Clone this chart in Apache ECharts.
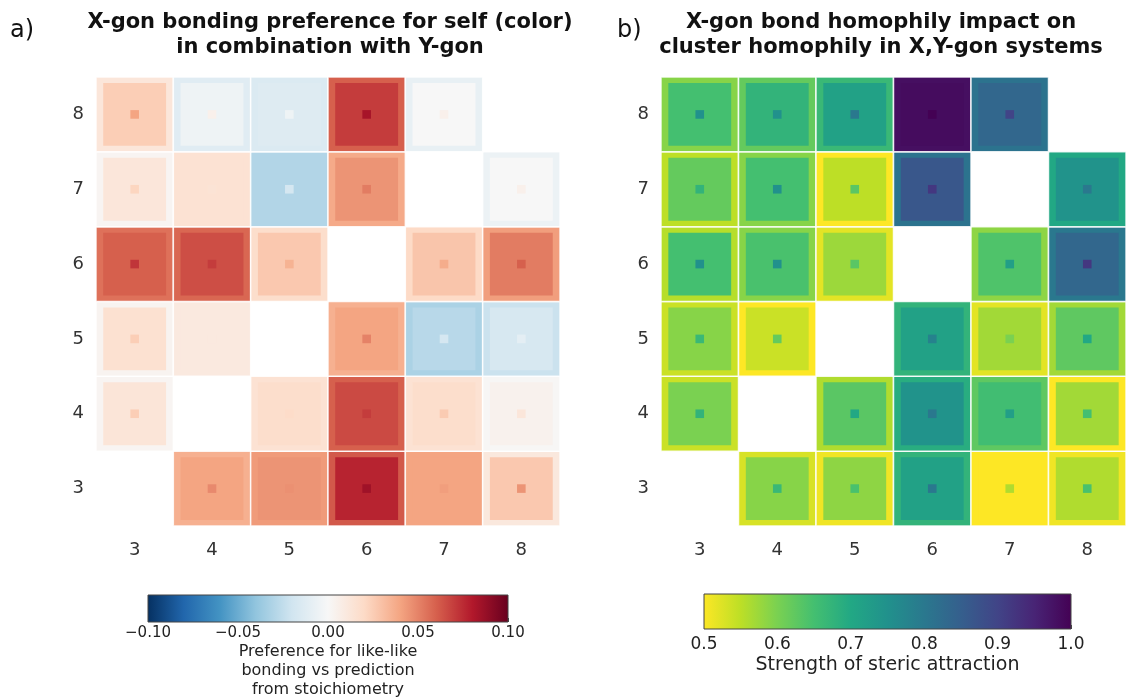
<!DOCTYPE html>
<html>
<head>
<meta charset="utf-8">
<script src="https://cdn.jsdelivr.net/npm/echarts@6/dist/echarts.min.js"></script>
<style>html,body{margin:0;padding:0;background:#fff}#c{width:1130px;height:700px}</style>
</head>
<body>
<div id="c"></div>
<script>
// Categories (X-gon along x, Y-gon along y)
var xCats = ['3','4','5','6','7','8'];
var yCats = ['3','4','5','6','7','8'];

// Panel a: preference for like-like bonding (rows: y = 3..8, cols: x = 3..8)
var prefOuter = [
  [null, 0.036, 0.043, 0.062, 0.040, 0.011],
  [0.002, null, 0.015, 0.060, 0.015, 0.001],
  [0.003, 0.010, null, 0.036, -0.032, -0.022],
  [0.055, 0.058, 0.018, null, 0.020, 0.042],
  [0.002, 0.015, -0.030, 0.038, null, -0.006],
  [0.012, -0.012, -0.015, 0.060, -0.008, null]
];
var prefMid = [
  [null, 0.040, 0.045, 0.077, 0.040, 0.027],
  [0.013, null, 0.018, 0.066, 0.018, 0.004],
  [0.016, 0.010, null, 0.040, -0.028, -0.017],
  [0.060, 0.065, 0.027, null, 0.028, 0.052],
  [0.012, 0.015, -0.030, 0.045, null, 0.000],
  [0.025, -0.005, -0.013, 0.070, 0.000, null]
];
var prefInner = [
  [null, 0.048, 0.046, 0.085, 0.042, 0.045],
  [0.025, null, 0.019, 0.070, 0.026, 0.012],
  [0.025, 0.010, null, 0.050, -0.018, -0.010],
  [0.072, 0.070, 0.035, null, 0.037, 0.060],
  [0.022, 0.014, -0.018, 0.052, null, 0.005],
  [0.040, 0.005, -0.005, 0.083, 0.005, null]
];

// Panel b: strength of steric attraction
var stericOuter = [
  [null, 0.53, 0.51, 0.675, 0.50, 0.51],
  [0.54, null, 0.56, 0.69, 0.625, 0.50],
  [0.54, 0.50, null, 0.675, 0.52, 0.57],
  [0.555, 0.59, 0.52, null, 0.585, 0.80],
  [0.55, 0.59, 0.50, 0.81, null, 0.70],
  [0.59, 0.62, 0.665, 0.98, 0.81, null]
];
var stericMid = [
  [null, 0.59, 0.585, 0.715, 0.50, 0.56],
  [0.60, null, 0.63, 0.745, 0.655, 0.57],
  [0.59, 0.54, null, 0.715, 0.57, 0.625],
  [0.65, 0.645, 0.575, null, 0.64, 0.835],
  [0.62, 0.65, 0.55, 0.865, null, 0.745],
  [0.65, 0.675, 0.715, 0.985, 0.835, null]
];
var stericInner = [
  [null, 0.665, 0.645, 0.80, 0.56, 0.645],
  [0.675, null, 0.70, 0.80, 0.72, 0.65],
  [0.665, 0.62, null, 0.78, 0.60, 0.70],
  [0.75, 0.75, 0.63, null, 0.72, 0.92],
  [0.675, 0.75, 0.63, 0.92, null, 0.80],
  [0.75, 0.75, 0.80, 1.0, 0.90, null]
];

// Colormaps
var rdbuR = ['#053061','#2166ac','#4393c3','#92c5de','#d1e5f0','#f7f7f7','#fddbc7','#f4a582','#d6604d','#b2182b','#67001f'];
var viridisR = ['#fde725','#bddf26','#7ad151','#44bf70','#22a884','#21918c','#2a788e','#355f8d','#414487','#482475','#440154'];
var prefRange = [-0.1, 0.1];
var stericRange = [0.5, 1.0];
var prefTicks = 0.05;
var stericTicks = 0.1;

var titleA = 'X-gon bonding preference for self (color)\nin combination with Y-gon';
var titleB = 'X-gon bond homophily impact on\ncluster homophily in X,Y-gon systems';
var cbNameA = 'Preference for like-like\nbonding vs prediction\nfrom stoichiometry';
var cbNameB = 'Strength of steric attraction';

function toData(mat) {
  var out = [];
  for (var i = 0; i < mat.length; i++) {
    for (var j = 0; j < mat[i].length; j++) {
      if (mat[i][j] !== null) out.push([j, i, mat[i][j]]);
    }
  }
  return out;
}

var FONT = 'DejaVu Sans';

function layerRender(kind) {
  return function (params, api) {
    var c = api.coord([api.value(0), api.value(1)]);
    var s = api.size([1, 1]);
    var color = api.visual('color');
    var w, h, stroke = null, lw = 0;
    if (kind === 'outer') {
      w = s[0]; h = s[1]; stroke = 'rgba(255,255,255,0.85)'; lw = 1.5;
    } else if (kind === 'mid') {
      w = h = Math.min(s[0], s[1]) * 0.84;
    } else {
      w = h = Math.min(s[0], s[1]) * 0.115;
    }
    return {
      type: 'rect',
      shape: { x: c[0] - w / 2, y: c[1] - h / 2, width: w, height: h },
      style: { fill: color, stroke: stroke, lineWidth: lw }
    };
  };
}

function colorbarRender(stops, range) {
  return function (params, api) {
    var p0 = api.coord([range[0], 0]);
    var p1 = api.coord([range[1], 1]);
    var cs = stops.map(function (col, k) { return { offset: k / (stops.length - 1), color: col }; });
    return {
      type: 'rect',
      shape: { x: p0[0], y: p1[1], width: p1[0] - p0[0], height: p0[1] - p1[1] },
      style: {
        fill: new echarts.graphic.LinearGradient(0, 0, 1, 0, cs),
        stroke: '#444', lineWidth: 1
      }
    };
  };
}

function catAxis(gridIndex, isX) {
  return {
    type: 'category', gridIndex: gridIndex, data: isX ? xCats : yCats,
    axisLine: { show: false }, axisTick: { show: false }, splitLine: { show: false },
    axisLabel: { fontFamily: FONT, fontSize: 18, color: '#333', margin: isX ? 15 : 12 }
  };
}

var series = [];
var visualMaps = [];
function addPanel(gridIdx, mats, stops, range) {
  var kinds = ['outer', 'mid', 'inner'];
  kinds.forEach(function (k, n) {
    var si = series.length;
    series.push({
      type: 'custom', xAxisIndex: gridIdx, yAxisIndex: gridIdx,
      encode: { x: 0, y: 1 },
      renderItem: layerRender(k),
      data: toData(mats[n]),
      z: 2 + n, silent: true
    });
    visualMaps.push({
      type: 'continuous', show: false, seriesIndex: si, dimension: 2,
      min: range[0], max: range[1], inRange: { color: stops }
    });
  });
}
addPanel(0, [prefOuter, prefMid, prefInner], rdbuR, prefRange);
addPanel(1, [stericOuter, stericMid, stericInner], viridisR, stericRange);

series.push({
  type: 'custom', xAxisIndex: 2, yAxisIndex: 2, encode: { x: 0, y: 1 },
  renderItem: colorbarRender(rdbuR, prefRange), data: [[prefRange[0], 0]], silent: true
});
series.push({
  type: 'custom', xAxisIndex: 3, yAxisIndex: 3, encode: { x: 0, y: 1 },
  renderItem: colorbarRender(viridisR, stericRange), data: [[stericRange[0], 0]], silent: true
});

var option = {
  backgroundColor: '#fff',
  animation: false,
  grid: [
    { left: 96, top: 77, width: 464, height: 449 },
    { left: 661, top: 77, width: 465, height: 449 },
    { left: 148, top: 595, width: 360, height: 29 },
    { left: 704, top: 594, width: 367, height: 35 }
  ],
  xAxis: [
    catAxis(0, true),
    catAxis(1, true),
    {
      type: 'value', gridIndex: 2, min: prefRange[0], max: prefRange[1], interval: prefTicks,
      axisLine: { show: false }, splitLine: { show: false },
      axisTick: { show: true, inside: true, length: 4, lineStyle: { color: '#444' } },
      axisLabel: {
        fontFamily: FONT, fontSize: 15, color: '#222', margin: 4,
        formatter: function (v) { return v.toFixed(2).replace('-', '\u2212'); }
      },
      name: cbNameA, nameLocation: 'middle', nameGap: 20,
      nameTextStyle: { fontFamily: FONT, fontSize: 16, color: '#222', lineHeight: 19, align: 'center' }
    },
    {
      type: 'value', gridIndex: 3, min: stericRange[0], max: stericRange[1], interval: stericTicks,
      axisLine: { show: false }, splitLine: { show: false },
      axisTick: { show: true, inside: true, length: 4, lineStyle: { color: '#444' } },
      axisLabel: {
        fontFamily: FONT, fontSize: 17, color: '#222', margin: 7,
        formatter: function (v) { return v.toFixed(1); }
      },
      name: cbNameB, nameLocation: 'middle', nameGap: 27,
      nameTextStyle: { fontFamily: FONT, fontSize: 19, color: '#222' }
    }
  ],
  yAxis: [
    catAxis(0, false),
    catAxis(1, false),
    { type: 'value', gridIndex: 2, min: 0, max: 1, show: false },
    { type: 'value', gridIndex: 3, min: 0, max: 1, show: false }
  ],
  visualMap: visualMaps,
  series: series,
  graphic: [
    { type: 'text', x: 10, y: 19, style: { text: 'a)', font: '24px "' + FONT + '"', fill: '#111' } },
    { type: 'text', x: 617, y: 19, style: { text: 'b)', font: '24px "' + FONT + '"', fill: '#111' } },
    { type: 'text', x: 330, y: 10, style: { text: titleA, textAlign: 'center', font: 'bold 21px "' + FONT + '"', lineHeight: 25, fill: '#111' } },
    { type: 'text', x: 881, y: 10, style: { text: titleB, textAlign: 'center', font: 'bold 21px "' + FONT + '"', lineHeight: 25, fill: '#111' } }
  ]
};

var chart = echarts.init(document.getElementById('c'), null, { renderer: 'canvas' });
chart.setOption(option);
</script>
</body>
</html>
